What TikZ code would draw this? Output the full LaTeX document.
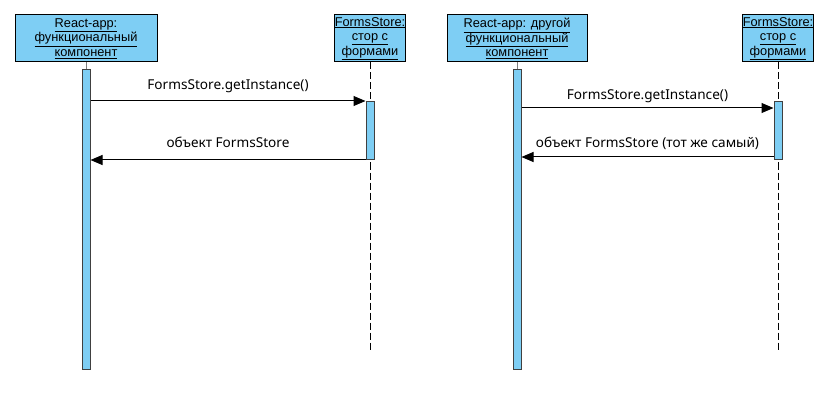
\documentclass[tikz,border=0pt]{standalone}
\usepackage{fontspec}
\setmainfont{Noto Sans}
\newfontfamily\boxfont{Liberation Sans}
\usetikzlibrary{arrows.meta,positioning}
\definecolor{lifeblue}{RGB}{126,206,244}

\begin{document}
\begin{tikzpicture}[x=1pt, y=-1pt, line width=1pt,
    obj/.style = {draw, fill=lifeblue, minimum height=47pt, inner sep=0pt, align=center,
                  font=\boxfont\fontsize{12.8}{14.5}\selectfont},
    act/.style = {draw=black!75, fill=lifeblue, minimum width=8pt, inner sep=0pt, anchor=north},
    life/.style = {dash pattern=on 7pt off 3pt, line width=0.8pt},
    msg/.style = {-{Triangle[length=12pt,width=10pt]}},
    lbl/.style = {midway, font=\fontsize{13.6}{16}\selectfont, inner sep=0pt}]
  \useasboundingbox (0,0) rectangle (830,409);

  % first diagram
  \node[obj, minimum width=142pt] (reactA) at (86,38.5)
    {\underline{React-app:}\\\underline{функциональный}\\\underline{компонент}};
  \node[obj, minimum width=70pt] (storeA) at (370,38.5)
    {\underline{FormsStore:}\\\underline{стор с}\\\underline{формами}};
  \coordinate (endA) at (370,352);
  \draw[life] (storeA) -- (endA);
  \draw[gray] (reactA) -- (86,69);
  \node[act, minimum height=300pt] (actA) at (86,69) {};
  \node[act, minimum height=58pt] (actB) at (370,101) {};
  \draw[msg] (actA.east |- actB.north) -- node[lbl, above=8pt] {FormsStore.getInstance()} (actB.north west);
  \draw[msg] (actB.south west) -- node[lbl, above=11.5pt] {объект FormsStore} (actA.east |- actB.south west);

  % second diagram
  \node[obj, minimum width=140pt] (reactB) at (517,38.5)
    {\underline{React-app: другой}\\\underline{функциональный}\\\underline{компонент}};
  \node[obj, minimum width=70pt] (storeB) at (778,38.5)
    {\underline{FormsStore:}\\\underline{стор с}\\\underline{формами}};
  \coordinate (endB) at (778,352);
  \draw[life] (storeB) -- (endB);
  \draw[gray] (reactB) -- (517,69);
  \node[act, minimum height=300pt] (actC) at (517,69) {};
  \node[act, minimum height=58pt] (actD) at (778,101) {};
  \coordinate (callD) at (actD.west |- 0,108);
  \coordinate (backD) at (actD.west |- 0,157);
  \draw[msg] (actC.east |- callD) -- node[lbl, above=5pt] {FormsStore.getInstance()} (callD);
  \draw[msg] (backD) -- node[lbl, above=7pt] {объект FormsStore (тот же самый)} (actC.east |- backD);
\end{tikzpicture}
\end{document}
